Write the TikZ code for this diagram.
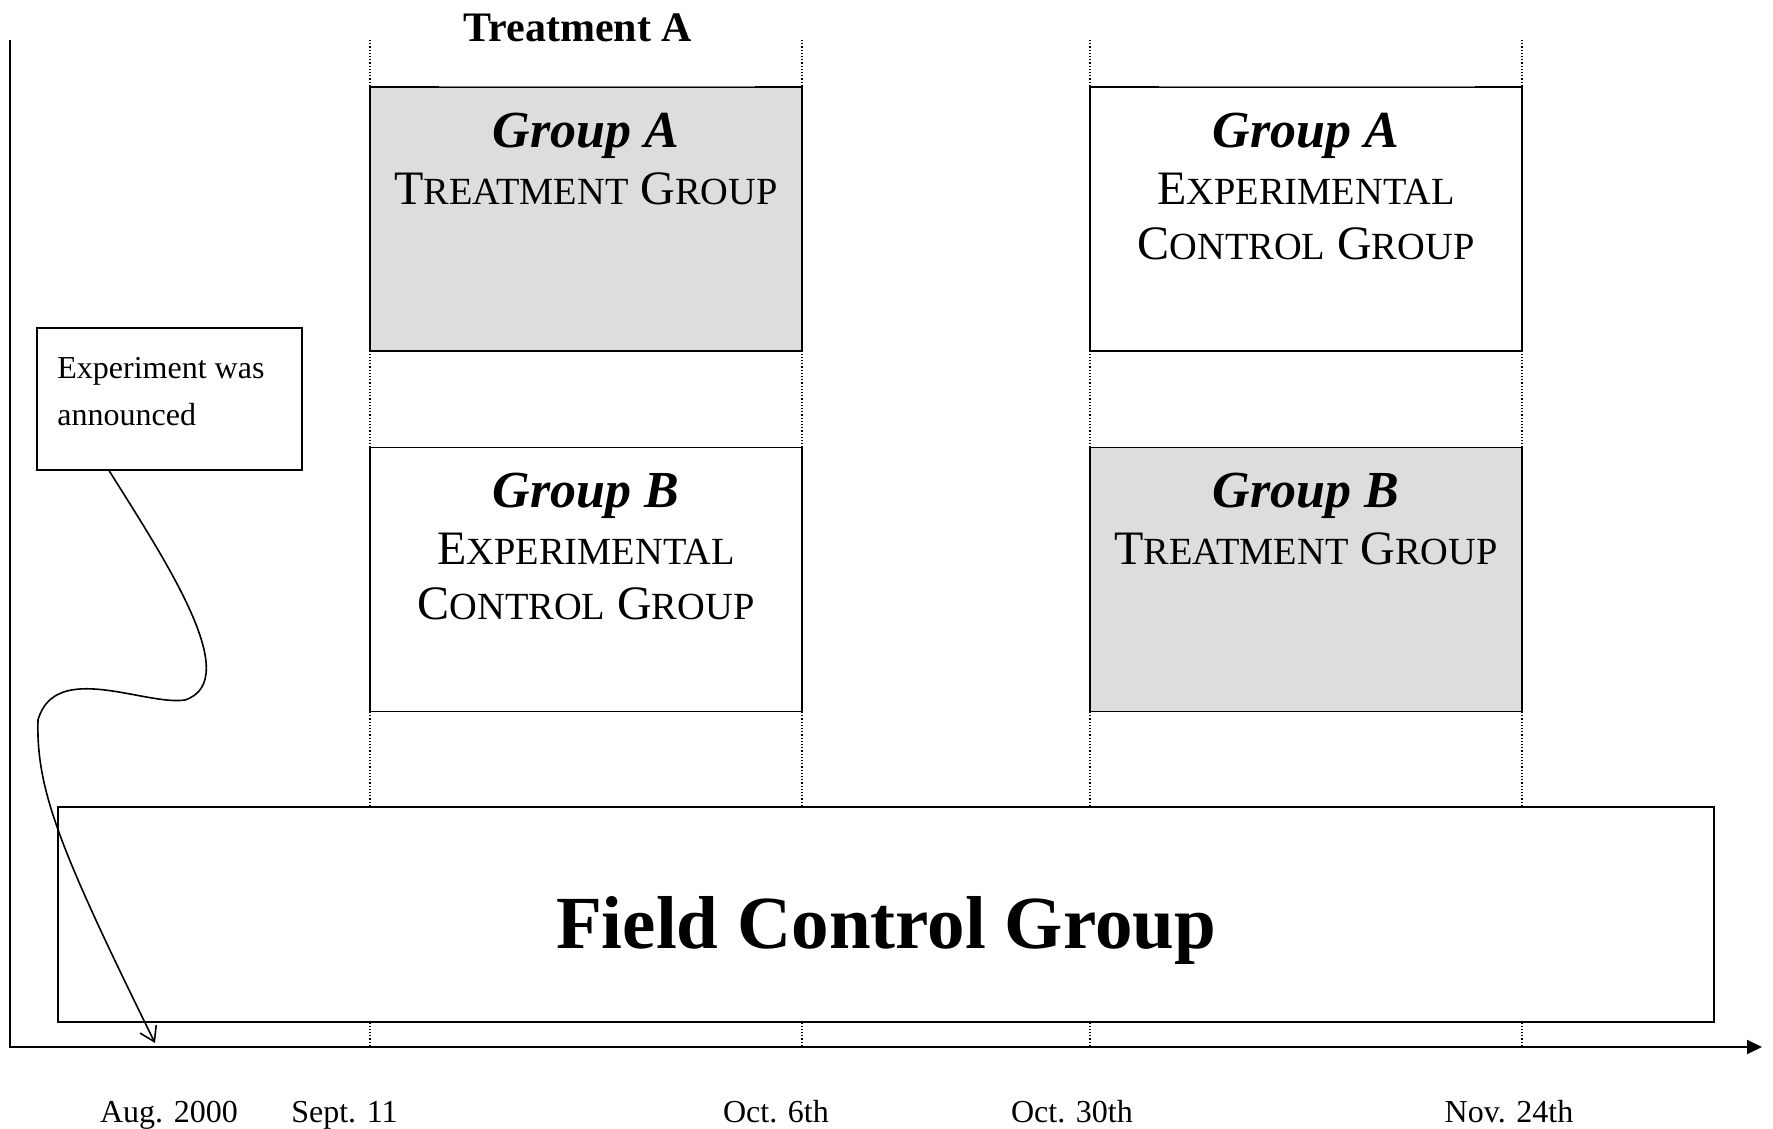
\documentclass[tikz,border=0pt]{standalone}
\usepackage{fontspec}
\setmainfont{Liberation Serif}
\usetikzlibrary{positioning, arrows.meta, calc}

\definecolor{treatgray}{RGB}{221,221,221}
\newcommand{\fakesc}[2]{#1{\fontsize{38.4}{44}\selectfont #2}}

\begin{document}
\begin{tikzpicture}[
    x=1pt, y=-1pt,
    >={Triangle[length=15pt,width=14pt]},
    groupbox/.style={draw, line width=1.8pt, fill=white,
        minimum width=432pt, minimum height=264pt, inner sep=0pt},
    grpname/.style={anchor=base, inner sep=0pt,
        font=\fontsize{52}{60}\selectfont\bfseries\itshape},
    grprole/.style={anchor=base, inner sep=0pt,
        font=\fontsize{48}{55}\selectfont},
    datelabel/.style={anchor=base, inner sep=0pt,
        font=\fontsize{32}{38}\selectfont}
]
\useasboundingbox (0,0) rectangle (1773,1129);

% time axis
\coordinate (ytop) at (10,40);
\coordinate (xend) at (1762,1047);
\foreach \xx in {370, 802, 1090, 1522}
    \draw[dotted, line width=1.2pt] (\xx,40) -- (\xx,1047);
\draw[->, line width=2pt] (ytop) |- (xend);

% heading
\node[anchor=base, inner sep=0pt, font=\fontsize{42}{50}\selectfont\bfseries]
    (treatA) at (578,42) {Treatment A};

% first period
\node[groupbox, fill=treatgray] (gA1) at (586,219) {};
\node[groupbox] (gB1) at (586,579.5) {};

% second period
\node[groupbox] (gA2) at (1306,219) {};
\node[groupbox, fill=treatgray] (gB2) at (1306,579.5) {};

% thin middle of the top edges
\foreach \b in {gA1, gA2} {
    \draw[white, line width=2pt] ($(\b.north west)+(70,0)$) -- ($(\b.north east)+(-48,0)$);
    \draw[gray, line width=0.8pt] ($(\b.north west)+(70,0)$) -- ($(\b.north east)+(-48,0)$);
}

% group texts
\node[grpname] (gA1name) at ($(gA1.north)+(0,61)$) {Group A};
\node[grprole] (gA1role) at ($(gA1name.base)+(0,57)$) {\fakesc{T}{REATMENT} \fakesc{G}{ROUP}};

\node[grpname] (gB1name) at ($(gB1.north)+(0,61)$) {Group B};
\node[grprole] (gB1role) at ($(gB1name.base)+(0,57)$) {\fakesc{E}{XPERIMENTAL}};
\node[grprole] (gB1role2) at ($(gB1role.base)+(0,55)$) {\fakesc{C}{ONTROL} \fakesc{G}{ROUP}};

\node[grpname] (gA2name) at ($(gA2.north)+(0,61)$) {Group A};
\node[grprole] (gA2role) at ($(gA2name.base)+(0,57)$) {\fakesc{E}{XPERIMENTAL}};
\node[grprole] (gA2role2) at ($(gA2role.base)+(0,55)$) {\fakesc{C}{ONTROL} \fakesc{G}{ROUP}};

\node[grpname] (gB2name) at ($(gB2.north)+(0,61)$) {Group B};
\node[grprole] (gB2role) at ($(gB2name.base)+(0,57)$) {\fakesc{T}{REATMENT} \fakesc{G}{ROUP}};

% field control
\node[draw, line width=1.8pt, fill=white, minimum width=1656pt,
    minimum height=215pt, inner sep=0pt] (field) at (886,914.5) {};
\node[anchor=base, inner sep=0pt, font=\fontsize{75}{86}\selectfont\bfseries]
    (fieldtext) at ($(field.center)+(0,33.5)$) {Field Control Group};

% announcement callout
\node[draw, line width=1.6pt, fill=white, minimum width=265pt,
    minimum height=142pt, inner sep=0pt] (callout) at (169.5,399) {};
\node[anchor=north west, align=left, inner sep=0pt,
    font=\fontsize{32}{47}\selectfont] (note)
    at ($(callout.north west)+(21,30)$) {Experiment was\\announced};
\coordinate (announce) at (155,1043);
\draw[line width=1.6pt, -{Straight Barb[length=14pt,width=18pt]}]
    ($(callout.south west)+(73,0)$) .. controls (165,560) and (245,680) .. (185,700)
    .. controls (145,706) and (55,660) .. (38,720)
    .. controls (36,790) and (60,850) .. (announce);

% dates
\node[datelabel] (aug) at (169,1122) {Aug. 2000};
\node[datelabel] (sep) at (344.5,1122) {Sept. 11};
\node[datelabel] (oct6) at (776,1122) {Oct. 6th};
\node[datelabel] (oct30) at (1072,1122) {Oct. 30th};
\node[datelabel] (nov) at (1509,1122) {Nov. 24th};

\end{tikzpicture}
\end{document}
